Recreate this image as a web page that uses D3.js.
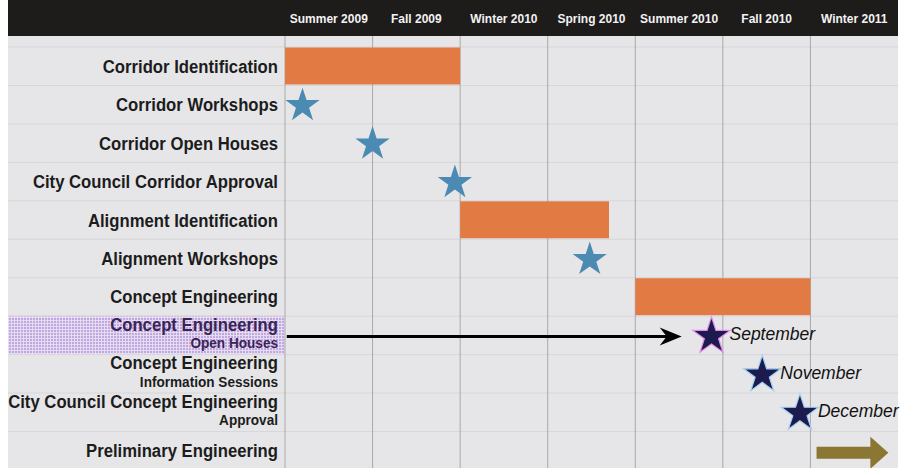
<!DOCTYPE html>
<html>
<head>
<meta charset="utf-8">
<script src="https://cdn.jsdelivr.net/npm/d3@7"></script>
<style>
  body { margin: 0; background: #fff; }
  text { font-family: "Liberation Sans", Arial, sans-serif; }
</style>
</head>
<body>
<svg width="904" height="468"></svg>
<script>
// season columns along the top
var seasons = ["Summer 2009", "Fall 2009", "Winter 2010", "Spring 2010", "Summer 2010", "Fall 2010", "Winter 2011"];

// row labels (main line + optional small second line)
var rowMain = ["Corridor Identification", "Corridor Workshops", "Corridor Open Houses",
               "City Council Corridor Approval", "Alignment Identification", "Alignment Workshops",
               "Concept Engineering", "Concept Engineering", "Concept Engineering",
               "City Council Concept Engineering", "Preliminary Engineering"];
var rowSub = ["", "", "", "", "", "", "", "Open Houses", "Information Sessions", "Approval", ""];

// positions are in "seasons" (0 = start of Summer 2009)
var bars = [
  {row: 0, start: 0, end: 2},
  {row: 4, start: 2, end: 3.7},
  {row: 6, start: 4, end: 6}
];
var milestones = [
  {row: 1, at: 0.2},
  {row: 2, at: 1.0},
  {row: 3, at: 1.94},
  {row: 5, at: 3.48}
];
var meetings = [
  {row: 7, at: 4.87, month: "September", glow: "#e58ae8"},
  {row: 8, at: 5.45, month: "November", glow: "#9fd3f2"},
  {row: 9, at: 5.88, month: "December", glow: "#9fd3f2"}
];
var pointer = {row: 7, from: 0.02, to: 4.53};
var nextPhase = {row: 10, from: 6.07, to: 6.89};

var svg = d3.select("svg"),
    padL = 8, padR = 898, headerH = 36,
    chartLeft = 285, plotTop = 47, plotBottom = 470,
    labelX = 278, stretch = 1.12;

var x = d3.scaleLinear().domain([0, seasons.length]).range([chartLeft, padR]);
var y = d3.scaleBand().domain(d3.range(rowMain.length)).range([plotTop, plotBottom]);
var cy = function(r) { return y(r) + y.bandwidth() / 2; };

// purple checker pattern for the highlighted label
var pat = svg.append("defs").append("pattern")
    .attr("id", "purple").attr("width", 3).attr("height", 3)
    .attr("patternUnits", "userSpaceOnUse");
pat.append("rect").attr("width", 3).attr("height", 3).attr("fill", "#e4dcef");
pat.append("rect").attr("width", 2).attr("height", 2).attr("fill", "#c2a6e4");

// background
svg.append("rect").attr("x", padL).attr("y", 0).attr("width", padR - padL).attr("height", 468)
    .attr("fill", "#e6e6e8");
svg.append("rect").attr("x", padL).attr("y", 0).attr("width", padR - padL).attr("height", headerH)
    .attr("fill", "#1e1b1b");

// highlighted label box
svg.append("rect")
    .attr("x", padL).attr("y", y(7) - 0.5)
    .attr("width", chartLeft - padL).attr("height", y.bandwidth())
    .attr("fill", "url(#purple)");

// row lines
svg.append("g").selectAll("line")
    .data(d3.range(rowMain.length + 1))
  .enter().append("line")
    .attr("x1", padL).attr("x2", padR)
    .attr("y1", function(d) { return d < rowMain.length ? y(d) : plotBottom; })
    .attr("y2", function(d) { return d < rowMain.length ? y(d) : plotBottom; })
    .attr("stroke", "#d7d7da").attr("stroke-width", 1);

// season columns
svg.append("g").selectAll("line")
    .data(d3.range(seasons.length))
  .enter().append("line")
    .attr("x1", function(d) { return x(d); })
    .attr("x2", function(d) { return x(d); })
    .attr("y1", headerH).attr("y2", 468)
    .attr("stroke", "#a9a9a9").attr("stroke-width", 1);

svg.append("g").selectAll("text")
    .data(seasons)
  .enter().append("text")
    .attr("transform", function(d, i) { return "translate(" + x(i + 0.5) + ",23) scale(1," + stretch + ")"; })
    .attr("text-anchor", "middle")
    .attr("fill", "#f2f2f2")
    .style("font-size", "12px").style("font-weight", "bold")
    .text(function(d) { return d; });

// row labels (slightly stretched vertically, like the condensed original)
svg.append("g").selectAll("text")
    .data(rowMain)
  .enter().append("text")
    .attr("transform", function(d, i) {
      return "translate(" + labelX + "," + (cy(i) + (rowSub[i] ? -4.5 : 6.5)) + ") scale(1," + stretch + ")";
    })
    .attr("text-anchor", "end")
    .attr("fill", function(d, i) { return i === 7 ? "#3a2456" : "#1c1c1c"; })
    .style("font-size", "16.7px").style("font-weight", "bold")
    .text(function(d) { return d; });

svg.append("g").selectAll("text")
    .data(rowSub)
  .enter().append("text")
    .attr("transform", function(d, i) {
      return "translate(" + labelX + "," + (cy(i) + 13) + ") scale(1," + stretch + ")";
    })
    .attr("text-anchor", "end")
    .attr("fill", function(d, i) { return i === 7 ? "#3a2456" : "#1c1c1c"; })
    .style("font-size", "13.6px").style("font-weight", "bold")
    .text(function(d) { return d; });

// orange duration bars
svg.append("g").selectAll("rect")
    .data(bars)
  .enter().append("rect")
    .attr("x", function(d) { return x(d.start); })
    .attr("y", function(d) { return y(d.row) + 0.5; })
    .attr("width", function(d) { return x(d.end) - x(d.start); })
    .attr("height", y.bandwidth() - 1.5)
    .attr("fill", "#e27a43");

// blue milestone stars
var smallStar = d3.symbol().type(d3.symbolStar).size(365);
svg.append("g").selectAll("path")
    .data(milestones)
  .enter().append("path")
    .attr("d", smallStar)
    .attr("transform", function(d) { return "translate(" + x(d.at) + "," + (cy(d.row) + 1) + ")"; })
    .attr("fill", "#4a8ab3");

// black pointer arrow into the September star
var py = cy(pointer.row) + 1, tip = x(pointer.to);
svg.append("line")
    .attr("x1", x(pointer.from)).attr("x2", tip - 10)
    .attr("y1", py).attr("y2", py)
    .attr("stroke", "#000").attr("stroke-width", 3);
svg.append("path")
    .attr("d", "M" + tip + "," + py + "L" + (tip - 22) + "," + (py - 9) +
               "L" + (tip - 15) + "," + py + "L" + (tip - 22) + "," + (py + 9) + "Z")
    .attr("fill", "#000");

// navy meeting stars with month labels
var bigStar = d3.symbol().type(d3.symbolStar).size(430);
var meet = svg.append("g").selectAll("g")
    .data(meetings)
  .enter().append("g")
    .attr("transform", function(d) { return "translate(" + x(d.at) + "," + (cy(d.row) + 1) + ")"; });

meet.append("path")
    .attr("d", bigStar)
    .attr("fill", "#1c1a4e")
    .attr("stroke", function(d) { return d.glow; })
    .attr("stroke-width", 1.2);

meet.append("text")
    .attr("x", 18).attr("y", 4)
    .attr("fill", "#111")
    .style("font-size", "17.5px").style("font-style", "italic")
    .text(function(d) { return d.month; });

// olive arrow for preliminary engineering
var ay = cy(nextPhase.row) + 2, a0 = x(nextPhase.from), a1 = x(nextPhase.to), head = 18;
svg.append("path")
    .attr("d", "M" + a0 + "," + (ay - 6) + "L" + (a1 - head) + "," + (ay - 6) +
               "L" + (a1 - head) + "," + (ay - 16) + "L" + a1 + "," + ay +
               "L" + (a1 - head) + "," + (ay + 16) + "L" + (a1 - head) + "," + (ay + 6) +
               "L" + a0 + "," + (ay + 6) + "Z")
    .attr("fill", "#8b7633");
</script>
</body>
</html>
